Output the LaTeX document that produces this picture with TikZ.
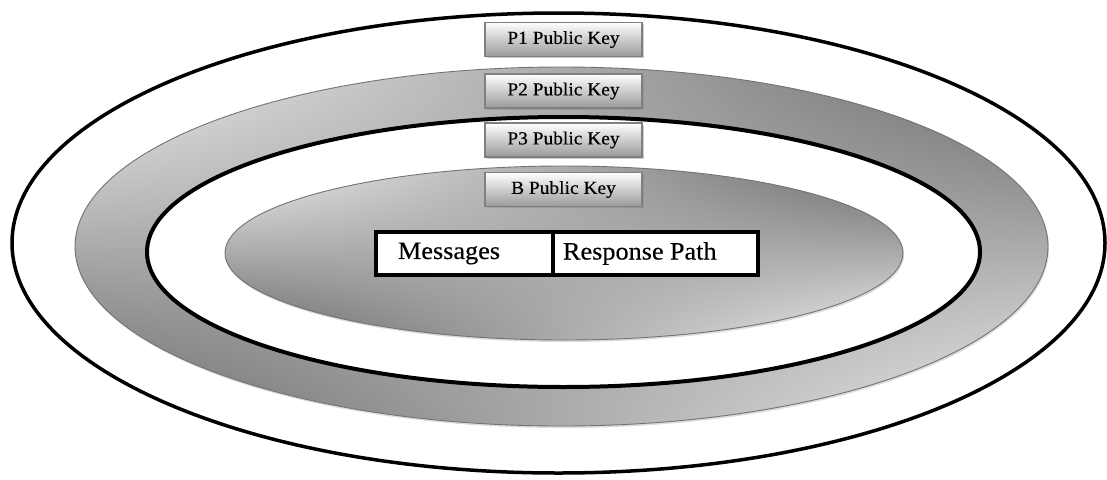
\documentclass[tikz,border=0pt]{standalone}
\usepackage{fontspec}
\setmainfont{Liberation Serif}[FakeStretch=1.05, FakeBold=0.4]
\usetikzlibrary{shadows}
\pgfdeclarefunctionalshading{ringshade}{\pgfpoint{-50bp}{-50bp}}{\pgfpoint{50bp}{50bp}}{}{mul -0.00044 mul 0.67 add dup dup}
\tikzset{
  blackring/.style={draw=black, line width=4pt, fill=white},
  grayshape/.style={draw=black!55, line width=0.9pt, shading=ringshade},
  softshadow/.style={fill=black!30, opacity=0.45},
  keybox/.style={draw=black!50, line width=1.3pt, top color=white, bottom color=black!40,
    minimum width=157pt, minimum height=34pt, inner sep=0pt,
    font=\fontsize{18.5pt}{20pt}\selectfont,
    drop shadow={shadow xshift=1.5pt, shadow yshift=-1.5pt, fill=black!50, opacity=0.4}},
  cellbox/.style={draw=black, line width=4pt, fill=white, minimum height=43pt,
    inner ysep=0pt, align=left, font=\fontsize{25pt}{27pt}\selectfont}
}
\begin{document}
\begin{tikzpicture}[x=1pt,y=-1pt]
\useasboundingbox (0,0) rectangle (1107,479);
% outer ellipse
\draw[blackring, line width=3.5pt] (558.5,243) ellipse [x radius=546.5, y radius=230];
% gray ring
\fill[softshadow] (562.5,248.5) ellipse [x radius=486.5, y radius=179.5];
\shade[grayshape] (561.5,246.5) ellipse [x radius=486.5, y radius=179.5];
% inner black ellipse
\draw[blackring] (563.5,252) ellipse [x radius=416.5, y radius=135];
% inner gray ellipse
\fill[softshadow] (565,255) ellipse [x radius=339, y radius=87];
\shade[grayshape] (564,253) ellipse [x radius=339, y radius=87];
% key boxes
\node[keybox] (p1) at (563.5,39.5) {P1 Public Key};
\node[keybox] (p2) at (563.5,91) {P2 Public Key};
\node[keybox] (p3) at (563.5,140) {P3 Public Key};
\node[keybox] (b) at (563.5,189.5) {B Public Key};
% message cells
\node[cellbox, inner xsep=22pt, text width=133pt] (msg) at (464.5,253.5) {Messages};
\node[cellbox, inner xsep=10pt, text width=185pt] (resp) at (655.5,253.5) {Response\hspace{-2pt} Path};
\end{tikzpicture}
\end{document}
